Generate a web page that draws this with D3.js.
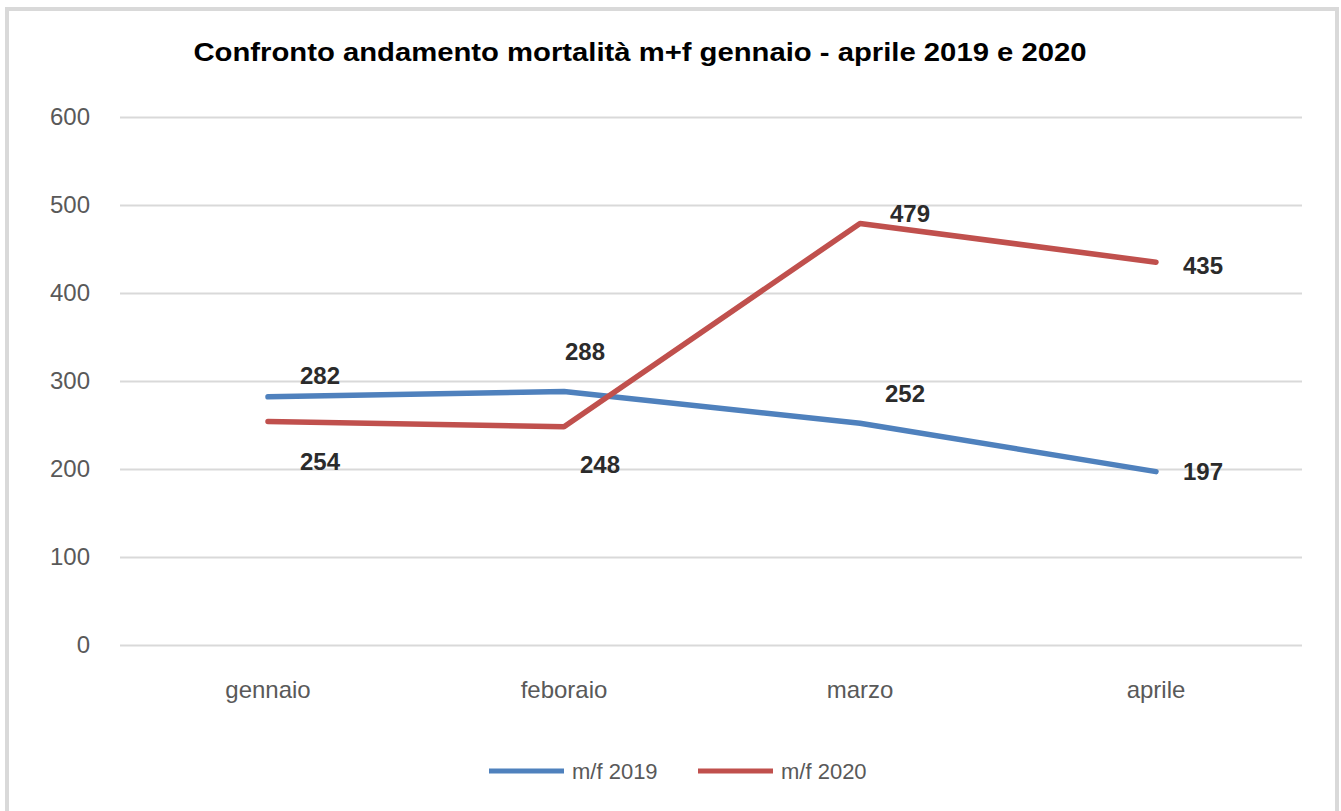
<!DOCTYPE html>
<html>
<head>
<meta charset="utf-8">
<script src="https://cdn.jsdelivr.net/npm/d3@7"></script>
<style>
  body { margin: 0; background: #fff; }
  text { font-family: "Liberation Sans", Arial, sans-serif; }
</style>
</head>
<body>
<svg id="chart" width="1341" height="811"></svg>
<script>
const months = ["gennaio", "feboraio", "marzo", "aprile"]
const values2019 = [282, 288, 252, 197]
const values2020 = [254, 248, 479, 435]
const yTicks = [0, 100, 200, 300, 400, 500, 600]
const seriesNames = ["m/f 2019", "m/f 2020"]

// label offsets, placed by hand like the original
const off2019 = [[52, -21], [21, -40], [45, -30], [47, 0]]
const off2020 = [[52, 40], [36, 38], [50, -10], [47, 3]]

const svg = d3.select("#chart")

// frame
svg.append("rect")
  .attr("x", 7).attr("y", 9)
  .attr("width", 1330).attr("height", 820)
  .attr("fill", "none")
  .attr("stroke", "#d9d9d9")
  .attr("stroke-width", 4)

const x = d3.scaleBand().domain(months).range([120, 1304])
const y = d3.scaleLinear().domain([0, 600]).range([645, 117])

//title
const title = svg.append("text")
  .attr("x", 640).attr("y", 61)
  .attr("text-anchor", "middle")
  .attr("font-size", 25)
  .attr("font-weight", "bold")
  .attr("fill", "#000")
  .text("Confronto andamento mortalità m+f gennaio - aprile 2019 e 2020")
// stretch to the width of the original if needed
const tw = title.node().getComputedTextLength()
if (Math.abs(tw - 893) > 10) title.attr("textLength", 893).attr("lengthAdjust", "spacingAndGlyphs")

// grid + y labels
const yAxis = svg.append("g")
  .attr("transform", "translate(120,0)")
  .call(d3.axisLeft(y).tickValues(yTicks).tickSize(-1182).tickPadding(30))
yAxis.select(".domain").remove()
yAxis.selectAll(".tick line").attr("stroke", "#d9d9d9").attr("stroke-width", 2)
yAxis.selectAll(".tick text")
  .attr("font-size", 24)
  .attr("fill", "#595959")
  .attr("font-family", "Liberation Sans, Arial, sans-serif")

// x labels
const xAxis = svg.append("g")
  .attr("transform", "translate(0,645)")
  .call(d3.axisBottom(x).tickSize(0).tickPadding(36))
xAxis.select(".domain").remove()
xAxis.selectAll(".tick text")
  .attr("font-size", 24)
  .attr("fill", "#595959")
  .attr("font-family", "Liberation Sans, Arial, sans-serif")

const line = d3.line()
  .x((d, i) => x(months[i]) + x.bandwidth() / 2)
  .y(d => y(d))

const series = [
  { name: seriesNames[0], values: values2019, color: "#4f81bd", off: off2019 },
  { name: seriesNames[1], values: values2020, color: "#c0504d", off: off2020 }
]

series.forEach(s => {
  svg.append("path")
    .datum(s.values)
    .attr("d", line)
    .attr("fill", "none")
    .attr("stroke", s.color)
    .attr("stroke-width", 5.5)
    .attr("stroke-linecap", "round")
    .attr("stroke-linejoin", "round")

  svg.append("g")
    .selectAll("text")
    .data(s.values)
    .join("text")
    .attr("x", (d, i) => x(months[i]) + x.bandwidth() / 2 + s.off[i][0])
    .attr("y", (d, i) => y(d) + s.off[i][1])
    .attr("dy", "0.36em")
    .attr("text-anchor", "middle")
    .attr("font-size", 24)
    .attr("font-weight", "bold")
    .attr("fill", "#2b2b2b")
    .text(d => d)
})

// legend
const legend = svg.append("g")
  .selectAll("g")
  .data(series)
  .join("g")
  .attr("transform", (d, i) => `translate(${489 + i * 209},771)`)
legend.append("line")
  .attr("x1", 0).attr("x2", 75)
  .attr("stroke", d => d.color)
  .attr("stroke-width", 5)
legend.append("text")
  .attr("x", 83).attr("dy", "0.36em")
  .attr("font-size", 22)
  .attr("fill", "#595959")
  .text(d => d.name)
</script>
</body>
</html>
